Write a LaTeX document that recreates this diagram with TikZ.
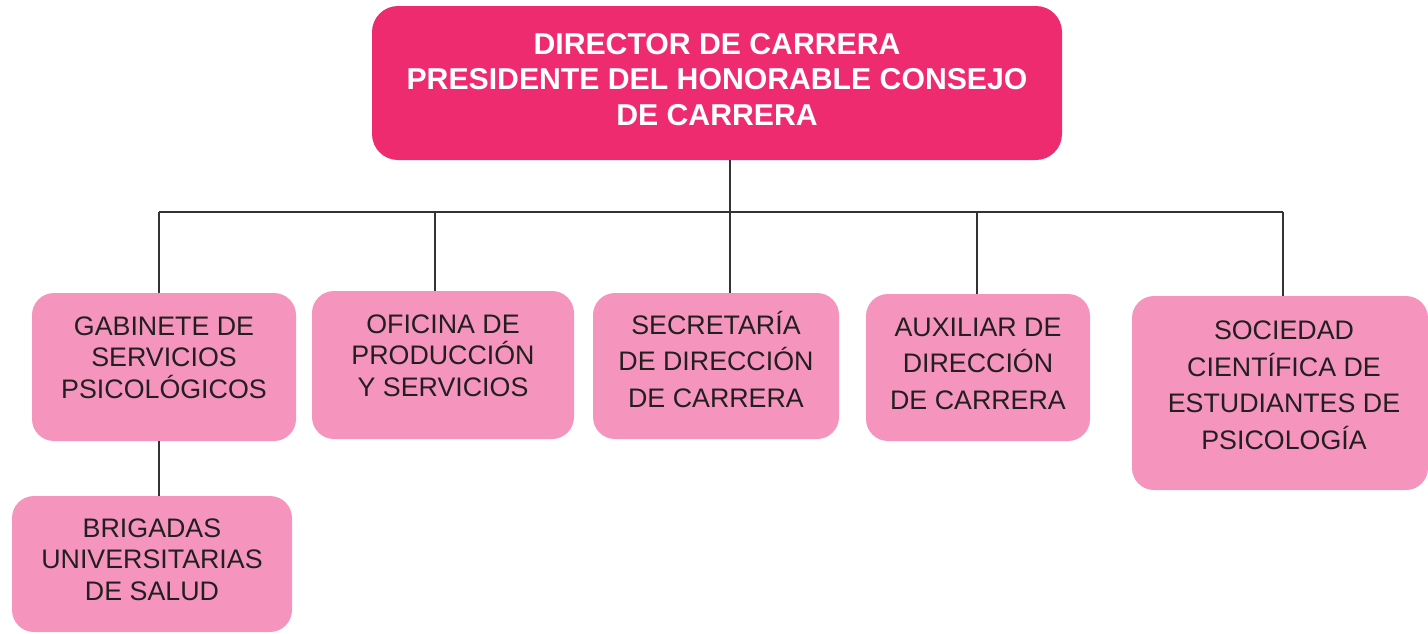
\documentclass[tikz,border=0pt]{standalone}
\usepackage{fontspec}
\setmainfont{Liberation Sans}
\definecolor{toppink}{RGB}{239,43,112}
\definecolor{boxpink}{RGB}{245,149,189}
\definecolor{txtdark}{RGB}{35,31,32}
\definecolor{linegray}{RGB}{51,51,51}
\begin{document}
\begin{tikzpicture}[x=1pt,y=-1pt,
  topbox/.style={rectangle,rounded corners=26pt,fill=toppink,inner sep=0pt},
  unitbox/.style={rectangle,rounded corners=22pt,fill=boxpink,inner sep=0pt},
  toptext/.style={anchor=base,align=center,inner sep=0pt,text=white,font=\fontsize{30.2}{35.5}\selectfont\bfseries},
  unittext/.style={anchor=base,align=center,inner sep=0pt,text=txtdark,font=\fontsize{26.8}{31.5}\selectfont},
  unittextwide/.style={unittext,font=\fontsize{26.8}{36.5}\selectfont},
  link/.style={draw=linegray,line width=2pt}]
\useasboundingbox (0,0) rectangle (1428,633);
% boxes
\node[topbox,minimum width=690pt,minimum height=154pt] (top) at (717,83) {};
\node[unitbox,minimum width=264pt,minimum height=148pt] (gab) at (164,367) {};
\node[unitbox,minimum width=262pt,minimum height=148pt] (ofi) at (443,365) {};
\node[unitbox,minimum width=246pt,minimum height=146pt] (sec) at (716,366) {};
\node[unitbox,minimum width=224pt,minimum height=147pt] (aux) at (978,367.5) {};
\node[unitbox,minimum width=296pt,minimum height=194pt] (soc) at (1280,393) {};
\node[unitbox,minimum width=280pt,minimum height=136pt] (bri) at (152,564) {};
% texts (anchored at the baseline of the last line)
\node[toptext] (topt) at (717,125) {DIRECTOR DE CARRERA\\PRESIDENTE DEL HONORABLE CONSEJO\\DE CARRERA};
\node[unittext] (gabt) at (164,398) {GABINETE DE\\SERVICIOS\\PSICOLÓGICOS};
\node[unittext] (ofit) at (443,396) {OFICINA DE\\PRODUCCIÓN\\Y SERVICIOS};
\node[unittextwide] (sect) at (716,407) {SECRETARÍA\\DE DIRECCIÓN\\DE CARRERA};
\node[unittextwide] (auxt) at (978,409) {AUXILIAR DE\\DIRECCIÓN\\DE CARRERA};
\node[unittextwide] (soct) at (1284,449) {SOCIEDAD\\CIENTÍFICA DE\\ESTUDIANTES DE\\PSICOLOGÍA};
\node[unittext] (brit) at (152,600) {BRIGADAS\\UNIVERSITARIAS\\DE SALUD};
% bus coordinates
\coordinate (b1) at (159,212);
\coordinate (b2) at (435,212);
\coordinate (b3) at (730,212);
\coordinate (b4) at (977,212);
\coordinate (b5) at (1283,212);
% connectors
\draw[link] (top.south -| b3) -- (b3);
\draw[link] (b1) -- (b5);
\draw[link] (b1) -- (b1 |- gab.north);
\draw[link] (b2) -- (b2 |- ofi.north);
\draw[link] (b3) -- (b3 |- sec.north);
\draw[link] (b4) -- (b4 |- aux.north);
\draw[link] (b5) -- (b5 |- soc.north);
\draw[link] (b1 |- gab.south) -- (b1 |- bri.north);
\end{tikzpicture}
\end{document}
